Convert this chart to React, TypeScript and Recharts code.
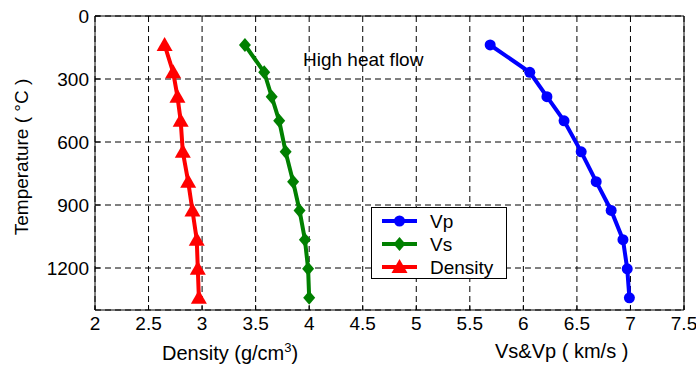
import { ScatterChart, Scatter, XAxis, YAxis, CartesianGrid } from "recharts"

// temperatures (°C) where the profiles were sampled
const temps = [138, 268, 384, 499, 647, 789, 926, 1065, 1204, 1342]
// velocity / density values
const vp = [5.69, 6.06, 6.22, 6.38, 6.54, 6.68, 6.82, 6.93, 6.97, 6.99]
const vs = [3.4, 3.58, 3.65, 3.72, 3.78, 3.85, 3.91, 3.96, 3.99, 4.0]
const density = [2.65, 2.73, 2.77, 2.8, 2.82, 2.87, 2.91, 2.95, 2.96, 2.97]

const xTicks = [2, 2.5, 3, 3.5, 4, 4.5, 5, 5.5, 6, 6.5, 7, 7.5]
const yTicks = [0, 300, 600, 900, 1200]

const toPoints = (vals: number[]) => vals.map((v, i) => ({ x: v, y: temps[i] }))

const BLUE = "#0000ff"
const GREEN = "#008000"
const RED = "#ff0000"
const FONT = '"Liberation Sans", Arial, sans-serif'

const Circle = ({ cx, cy }: any) => <circle cx={cx} cy={cy} r={5.5} fill={BLUE} />
const Diamond = ({ cx, cy }: any) => (
  <polygon points={`${cx},${cy - 7} ${cx + 6},${cy} ${cx},${cy + 7} ${cx - 6},${cy}`} fill={GREEN} />
)
const Triangle = ({ cx, cy }: any) => (
  <polygon points={`${cx},${cy - 8} ${cx + 8},${cy + 6} ${cx - 8},${cy + 6}`} fill={RED} />
)

const legendItems = [
  { name: "Vp", color: BLUE, Shape: Circle },
  { name: "Vs", color: GREEN, Shape: Diamond },
  { name: "Density", color: RED, Shape: Triangle },
]

export default function App() {
  const tickStyle = { fill: "#000", fontSize: 19, fontFamily: FONT }
  return (
    <div style={{ position: "absolute", left: 0, top: 0, width: 696, height: 365, background: "#fff", fontFamily: FONT }}>
      <ScatterChart width={696} height={365} margin={{ top: 15, right: 11, bottom: 0, left: 0 }}>
        <CartesianGrid xAxisId="b" yAxisId="l" stroke="#000" strokeDasharray="6 4" />
        <XAxis
          xAxisId="b"
          dataKey="x"
          type="number"
          domain={[2, 7.5]}
          ticks={xTicks}
          allowDataOverflow
          height={55}
          tickSize={-5}
          tickMargin={12}
          stroke="#000"
          tick={tickStyle}
        />
        <XAxis xAxisId="t" orientation="top" type="number" domain={[2, 7.5]} ticks={xTicks} height={1} tickSize={-5} tick={false} stroke="#000" />
        <YAxis
          yAxisId="l"
          dataKey="y"
          type="number"
          domain={[0, 1400]}
          ticks={yTicks}
          reversed
          allowDataOverflow
          width={95}
          tickSize={-5}
          tickMargin={11}
          stroke="#000"
          tick={tickStyle}
        />
        <YAxis yAxisId="r" orientation="right" type="number" domain={[0, 1400]} ticks={yTicks} reversed width={1} tickSize={-5} tick={false} stroke="#000" />
        <Scatter xAxisId="b" yAxisId="l" data={toPoints(vp)} line={{ stroke: BLUE, strokeWidth: 4 }} lineType="joint" shape={Circle} isAnimationActive={false} />
        <Scatter xAxisId="b" yAxisId="l" data={toPoints(vs)} line={{ stroke: GREEN, strokeWidth: 4 }} lineType="joint" shape={Diamond} isAnimationActive={false} />
        <Scatter xAxisId="b" yAxisId="l" data={toPoints(density)} line={{ stroke: RED, strokeWidth: 4 }} lineType="joint" shape={Triangle} isAnimationActive={false} />
      </ScatterChart>

      <div style={{ position: "absolute", left: 303, top: 49, fontSize: 19, whiteSpace: "nowrap" }}>High heat flow</div>

      <div style={{ position: "absolute", left: 371, top: 207, width: 134, height: 70, border: "1px solid #000", background: "#fff" }}>
        <svg width={134} height={70} style={{ position: "absolute", left: 0, top: 0 }}>
          {legendItems.map((it, i) => {
            const y = 13 + i * 23
            return (
              <g key={it.name}>
                <line x1={10} x2={45} y1={y} y2={y} stroke={it.color} strokeWidth={4} />
                <it.Shape cx={27.5} cy={y} />
                <text x={58} y={y + 7} fontSize={19} fontFamily={FONT} fill="#000">{it.name}</text>
              </g>
            )
          })}
        </svg>
      </div>

      <div style={{ position: "absolute", left: 162, top: 340, fontSize: 20, whiteSpace: "nowrap" }}>
        Density (g/cm<sup style={{ fontSize: 13 }}>3</sup>)
      </div>
      <div style={{ position: "absolute", left: 495, top: 340, fontSize: 20, whiteSpace: "nowrap" }}>Vs&amp;Vp ( km/s )</div>
      <div
        style={{
          position: "absolute",
          left: 22,
          top: 157,
          fontSize: 19,
          whiteSpace: "nowrap",
          transform: "translate(-50%, -50%) rotate(-90deg)",
        }}
      >
        Temperature ( °C )
      </div>
    </div>
  )
}
